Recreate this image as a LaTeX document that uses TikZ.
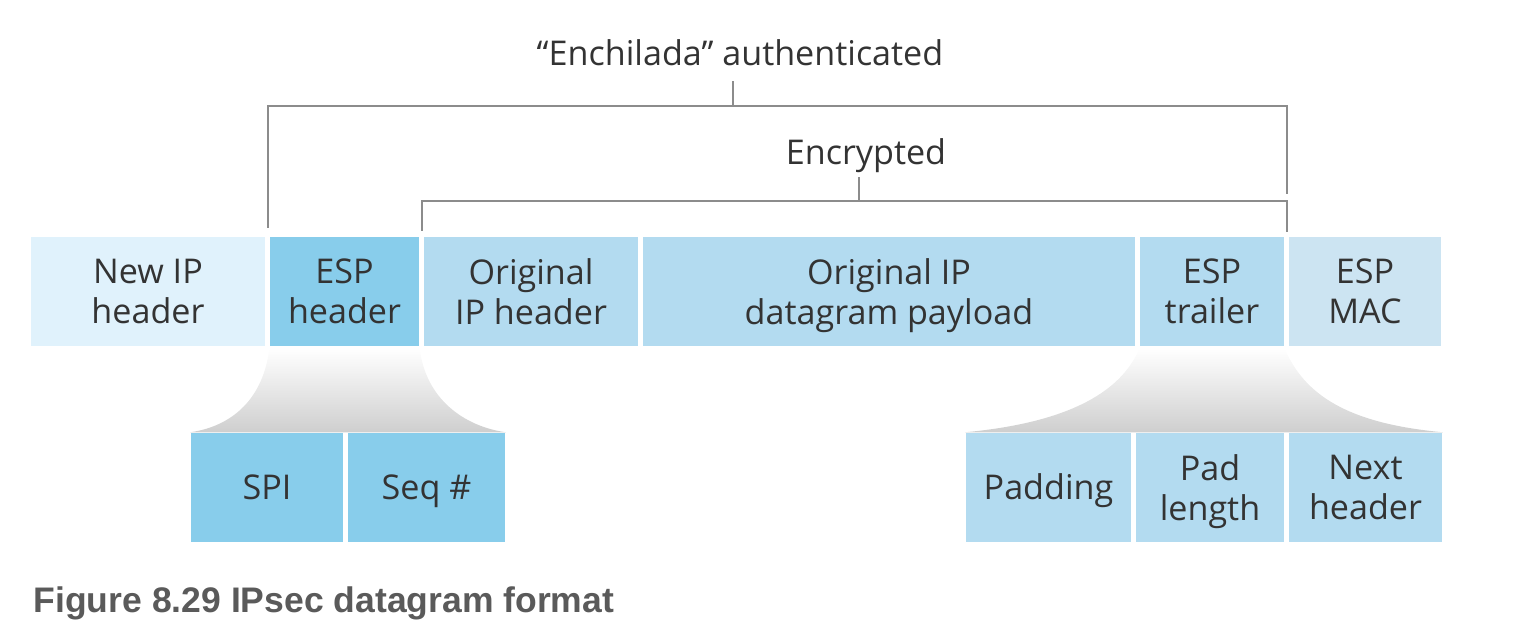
\documentclass[tikz,border=0pt]{standalone}
\usepackage{fontspec}
\setmainfont{Open Sans}
\newfontfamily\captionfont{Liberation Sans}
\definecolor{newipc}{HTML}{E0F2FC}
\definecolor{espc}{HTML}{88CDEB}
\definecolor{origc}{HTML}{B3DBF0}
\definecolor{macc}{HTML}{CCE4F2}
\definecolor{linec}{HTML}{8C8C8C}
\definecolor{textc}{HTML}{333333}
\definecolor{capc}{HTML}{5A5A5A}
\tikzset{
  field/.style={inner sep=0pt, minimum height=1.09cm, align=center, text=textc,
    text depth=0pt, font=\fontsize{9.7}{11.4}\selectfont},
  oneline/.style={text height=6.8pt},
  bracket/.style={draw=linec, line width=0.6pt},
  lbl/.style={text=textc, inner sep=0pt, anchor=base, font=\fontsize{9.7}{11.4}\selectfont},
  funnel/.style={top color=white, bottom color=black!19, draw=none}
}
\begin{document}
\begin{tikzpicture}[x=0.01cm, y=-0.01cm]
    \useasboundingbox (0,0) rectangle (1519,628);

    % Datagram
    \node[field, fill=newipc, minimum width=2.34cm] (newip) at (148,291.5) {New IP\\header};
    \node[field, fill=espc, minimum width=1.49cm] (esph) at (344.5,291.5) {ESP\\header};
    \node[field, fill=origc, minimum width=2.14cm] (origh) at (531,291.5) {Original\\IP header};
    \node[field, fill=origc, minimum width=4.92cm] (payload) at (889,291.5) {Original IP\\datagram payload};
    \node[field, fill=origc, minimum width=1.44cm] (espt) at (1212,291.5) {ESP\\trailer};
    \node[field, fill=macc, minimum width=1.52cm] (mac) at (1365,291.5) {ESP\\MAC};

    % ESP header fields
    \node[field, oneline, fill=espc, minimum width=1.52cm] (spi) at (267,487.5) {SPI};
    \node[field, oneline, fill=espc, minimum width=1.57cm] (seq) at (426.5,487.5) {Seq \#};

    % ESP trailer fields
    \node[field, oneline, fill=origc, minimum width=1.65cm] (pad) at (1048.5,487.5) {Padding};
    \node[field, fill=origc, minimum width=1.48cm] (padlen) at (1210,487.5) {Pad\\length};
    \node[field, fill=origc, minimum width=1.53cm] (next) at (1365.5,487.5) {Next\\header};

    % Funnels
    \shade[funnel] ([yshift=-0.02cm]esph.south west) .. controls +(-6,50) and +(42,-6) .. (spi.north west)
        -- (seq.north east) .. controls +(-42,-6) and +(6,50) .. ([yshift=-0.02cm]esph.south east) -- cycle;
    \shade[funnel] ([yshift=-0.02cm]espt.south west) .. controls +(-22,52) and +(85,-8) .. (pad.north west)
        -- (next.north east) .. controls +(-85,-8) and +(22,52) .. ([yshift=-0.02cm]espt.south east) -- cycle;

    % Labels
    \node[lbl] (auth) at (740,66) {“Enchilada” authenticated};
    \node[lbl] (enc) at (866,165) {Encrypted};

    % Brackets
    \coordinate (authl) at (268,228);
    \coordinate (authr) at (1287,194);
    \coordinate (autht) at (733,106);
    \coordinate (authtick) at (733,81);
    \coordinate (encl) at (422,231);
    \coordinate (encr) at (1287,232);
    \coordinate (enct) at (859,201);
    \coordinate (enctick) at (859,177);
    \draw[bracket] (authl) |- (autht) -| (authr);
    \draw[bracket] (autht) -- (authtick);
    \draw[bracket] (encl) |- (enct) -| (encr);
    \draw[bracket] (enct) -- (enctick);

    % Caption
    \node[anchor=base west, inner sep=0pt, text=capc, font=\captionfont\bfseries\fontsize{10.1}{12}\selectfont]
        (caption) at (33,612) {Figure 8.29 IPsec datagram format};
\end{tikzpicture}
\end{document}
